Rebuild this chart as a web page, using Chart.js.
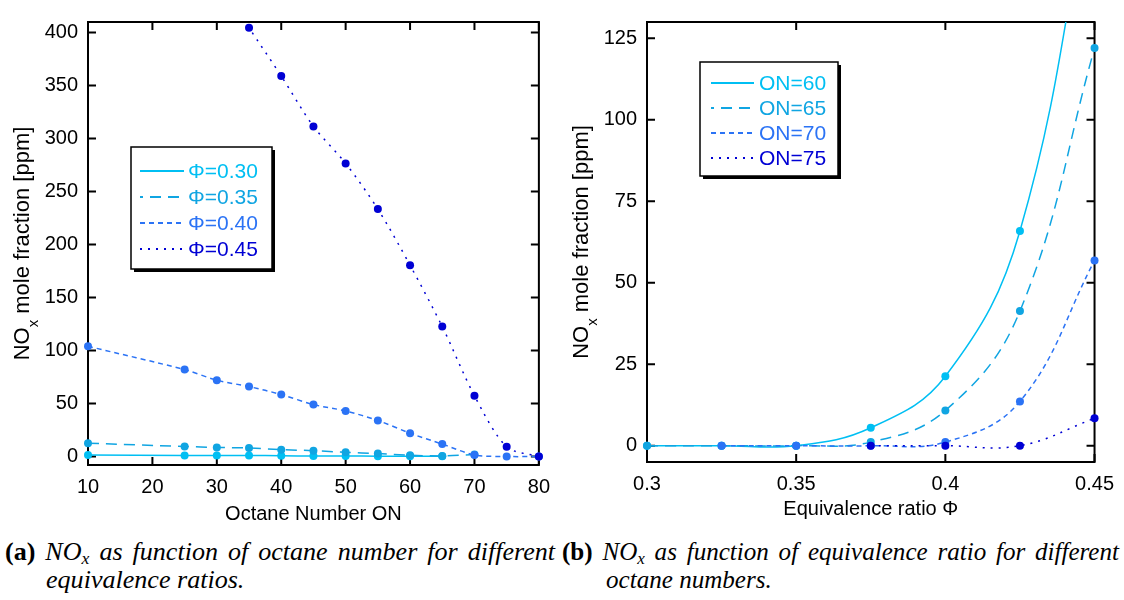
<!DOCTYPE html>
<html><head><meta charset="utf-8">
<script src="https://cdn.jsdelivr.net/npm/chart.js@4/dist/chart.umd.min.js"></script>
<style>
html,body{margin:0;padding:0;background:#fff;width:1124px;height:600px;overflow:hidden;}
#ca{position:absolute;left:0;top:0;}
#cb{position:absolute;left:560px;top:0;}
.cap{position:absolute;font-family:"Liberation Serif","Times New Roman",Tinos,serif;font-size:25px;white-space:nowrap;transform-origin:0 0;line-height:25px;color:#000;}
.cap b{font-style:normal;font-weight:bold;}
.cap i{font-style:italic;}
.cap sub{font-size:17px;vertical-align:-4px;font-style:italic;line-height:0;}
</style></head>
<body>
<canvas id="ca" width="560" height="530"></canvas>
<canvas id="cb" width="564" height="530"></canvas>
<div class="cap" id="a1" style="left:5px;top:539px"><b>(a)</b> <i>NO<sub>x</sub> as function of octane number for different</i></div>
<div class="cap" id="a2" style="left:46px;top:567px"><i>equivalence ratios.</i></div>
<div class="cap" id="b1" style="left:562px;top:539px"><b>(b)</b> <i>NO<sub>x</sub> as function of equivalence ratio for different</i></div>
<div class="cap" id="b2" style="left:606px;top:567px"><i>octane numbers.</i></div>
<script>
// ---------- data (a): NOx vs octane number ----------
const octaneNumbers = [10, 25, 30, 35, 40, 45, 50, 55, 60, 65, 70, 75, 80];
const phi030 = [1.5, 1.0, 1.0, 1.0, 0.7, 0.5, 0.5, 0.3, 0.2, 0.2, null, null, null];
const phi035 = [12.6, 9.5, 8.6, 8.0, 6.5, 5.5, 4.0, 2.8, 1.2, 0.6, 1.8, null, null];
const phi040 = [104, 82, 72, 66, 58.5, 49, 43, 34, 22, 11.7, 1.5, 0, 0];
const phi045 = [null, null, 450, 404.5, 359, 311.5, 276.6, 233.5, 180.5, 122.6, 57.3, 9.2, 0];
const leftSeriesLabels = ['\u03A6=0.30', '\u03A6=0.35', '\u03A6=0.40', '\u03A6=0.45'];
const leftXTicks = [10, 20, 30, 40, 50, 60, 70, 80];
const leftYTicks = [0, 50, 100, 150, 200, 250, 300, 350, 400];

// ---------- data (b): NOx vs equivalence ratio ----------
const phiValues = [0.3, 0.325, 0.35, 0.375, 0.4, 0.425, 0.45];
const on60 = [0, 0, 0, 5.5, 21.3, 65.9, 180];
const on65 = [0, 0, 0, 1.1, 10.8, 41.3, 122];
const on70 = [null, 0, 0, 0, 1.1, 13.6, 56.8];
const on75 = [null, null, null, 0, 0, 0, 8.4];
const rightSeriesLabels = ['ON=60', 'ON=65', 'ON=70', 'ON=75'];
const rightXTicks = [0.3, 0.35, 0.4, 0.45];
const rightXTickLabels = ['0.3', '0.35', '0.4', '0.45'];
const rightYTicks = [0, 25, 50, 75, 100, 125];

const colors = ['#00bff3', '#10a5e2', '#2b73f5', '#0000d4'];
const dashes = [[], [11, 7], [5, 4], [2, 6]];
const SANS = '"Liberation Sans", Arial, sans-serif';

function makeDatasets(xs, series, labels, tension) {
  return series.map((ys, i) => ({
    label: labels[i],
    data: xs.map((x, j) => ({x: x, y: ys[j]})),
    borderColor: colors[i], backgroundColor: colors[i],
    pointBackgroundColor: colors[i], pointBorderWidth: 0,
    pointRadius: 4, pointHoverRadius: 4,
    borderDash: dashes[i], borderWidth: 1.5, tension: tension,
    clip: {left: 8, right: 8, top: 0, bottom: 8},
    order: series.length - i
  }));
}

const deco = {
  id: 'deco',
  beforeDatasetsDraw(chart, args, o) {
    const ctx = chart.ctx, a = chart.chartArea, x = chart.scales.x, y = chart.scales.y;
    ctx.save();
    ctx.strokeStyle = '#000'; ctx.lineWidth = 2;
    ctx.strokeRect(a.left, a.top, a.right - a.left, a.bottom - a.top);
    const L = 8;
    ctx.beginPath();
    x.ticks.forEach(t => { const p = x.getPixelForValue(t.value);
      ctx.moveTo(p, a.bottom); ctx.lineTo(p, a.bottom - L);
      ctx.moveTo(p, a.top); ctx.lineTo(p, a.top + L); });
    y.ticks.forEach(t => { const p = y.getPixelForValue(t.value);
      ctx.moveTo(a.left, p); ctx.lineTo(a.left + L, p);
      ctx.moveTo(a.right, p); ctx.lineTo(a.right - L, p); });
    ctx.stroke();
    ctx.restore();
  },
  afterDatasetsDraw(chart, args, o) {
    const ctx = chart.ctx, a = chart.chartArea;
    ctx.save();
    const lg = o.legend;
    ctx.fillStyle = '#000';
    ctx.fillRect(lg.x + 3, lg.y + 3, lg.w, lg.h);
    ctx.fillStyle = '#fff';
    ctx.fillRect(lg.x, lg.y, lg.w, lg.h);
    ctx.strokeStyle = '#000'; ctx.lineWidth = 1.5;
    ctx.strokeRect(lg.x, lg.y, lg.w, lg.h);
    chart.data.datasets.forEach((ds, i) => {
      const ry = lg.rows[i];
      ctx.strokeStyle = ds.borderColor; ctx.lineWidth = 2;
      ctx.setLineDash(ds.borderDash);
      ctx.lineDashOffset = i === 1 ? 8 : 0;
      ctx.beginPath(); ctx.moveTo(lg.x0, ry); ctx.lineTo(lg.x1, ry); ctx.stroke();
      ctx.setLineDash([]);
      ctx.fillStyle = ds.borderColor;
      ctx.font = '21px ' + SANS; ctx.textBaseline = 'middle'; ctx.textAlign = 'left';
      ctx.fillText(ds.label, lg.tx, ry + 1);
    });
    ctx.fillStyle = '#000';
    ctx.font = '20px ' + SANS; ctx.textAlign = 'center'; ctx.textBaseline = 'middle';
    ctx.fillText(o.xTitle, (a.left + a.right) / 2, o.xTitleY);
    ctx.translate(o.yTitleX, (a.top + a.bottom) / 2);
    ctx.rotate(-Math.PI / 2);
    ctx.textAlign = 'left'; ctx.textBaseline = 'alphabetic';
    ctx.font = '22px ' + SANS; const w1 = ctx.measureText('NO').width;
    const rest = ' mole fraction [ppm]'; const w3 = ctx.measureText(rest).width;
    ctx.font = '15px ' + SANS; const w2 = ctx.measureText('x').width;
    let cx = -(w1 + w2 + w3) / 2;
    ctx.font = '22px ' + SANS; ctx.fillText('NO', cx, 0); cx += w1;
    ctx.font = '15px ' + SANS; ctx.fillText('x', cx, 9); cx += w2;
    ctx.font = '22px ' + SANS; ctx.fillText(rest, cx, 0);
    ctx.restore();
  }
};

function options(cfg) {
  return {
    responsive: false, animation: false, events: [],
    layout: {padding: {left: 0, right: cfg.padRight, top: 12, bottom: 0}},
    plugins: {legend: {display: false}, tooltip: {enabled: false}, deco: cfg.deco},
    elements: {line: {capBezierPoints: false}},
    scales: {
      x: {type: 'linear', min: cfg.xmin, max: cfg.xmax,
        grid: {display: false, drawTicks: false}, border: {display: false},
        ticks: {color: '#000', font: {family: SANS, size: 20}, padding: 10, maxRotation: 0, autoSkip: false,
          callback: cfg.xLabel},
        afterBuildTicks: s => { s.ticks = cfg.xTicks.map(v => ({value: v})); },
        afterFit: s => { s.height = cfg.xAxisH; }},
      y: {type: 'linear', min: cfg.ymin, max: cfg.ymax,
        grid: {display: false, drawTicks: false}, border: {display: false},
        ticks: {color: '#000', font: {family: SANS, size: 20}, padding: 10, autoSkip: false,
          callback: v => String(v)},
        afterBuildTicks: s => { s.ticks = cfg.yTicks.map(v => ({value: v})); },
        afterFit: s => { s.width = cfg.yAxisW; }}
    }
  };
}

new Chart(document.getElementById('ca'), {
  type: 'line',
  data: {datasets: makeDatasets(octaneNumbers, [phi030, phi035, phi040, phi045], leftSeriesLabels, 0.3)},
  options: options({
    xmin: 10, xmax: 80, ymin: -8, ymax: 410, xTicks: leftXTicks, yTicks: leftYTicks,
    xLabel: v => String(v), padRight: 19, xAxisH: 65, yAxisW: 88,
    deco: {legend: {x: 131, y: 147, w: 141, h: 122, rows: [171, 197, 223, 249], x0: 140, x1: 184, tx: 188},
      xTitle: 'Octane Number ON', xTitleY: 514, yTitleX: 29}
  }),
  plugins: [deco]
});

new Chart(document.getElementById('cb'), {
  type: 'line',
  data: {datasets: makeDatasets(phiValues, [on60, on65, on70, on75], rightSeriesLabels, 0.4)},
  options: options({
    xmin: 0.3, xmax: 0.45, ymin: -5, ymax: 130, xTicks: rightXTicks, yTicks: rightYTicks,
    xLabel: (v, i) => rightXTickLabels[i], padRight: 27, xAxisH: 68, yAxisW: 87,
    deco: {legend: {x: 140, y: 62, w: 138, h: 114, rows: [83, 108, 133, 158], x0: 151, x1: 194, tx: 199},
      xTitle: 'Equivalence ratio \u03A6', xTitleY: 509, yTitleX: 28}
  }),
  plugins: [deco]
});

// captions: a common horizontal scale for both lines, and the first line justified by slightly wider word spacing
function fitCaption(line1, line2, target1) {
  const w1 = line1.getBoundingClientRect().width;
  const k = w1 > 0 ? 0.95 * target1 / w1 : 1;
  line1.style.transform = 'scaleX(' + k + ')';
  line2.style.transform = 'scaleX(' + k + ')';
  const spaces = line1.textContent.split(' ').length - 1;
  line1.style.wordSpacing = ((target1 / k - w1) / spaces) + 'px';
}
fitCaption(document.getElementById('a1'), document.getElementById('a2'), 550);
fitCaption(document.getElementById('b1'), document.getElementById('b2'), 557);
</script>
</body></html>
